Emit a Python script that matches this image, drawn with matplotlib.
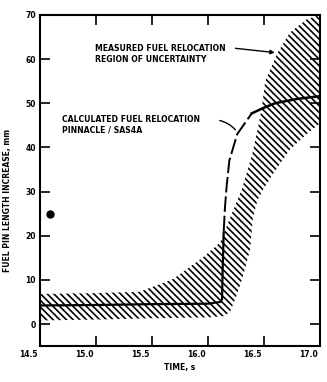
import matplotlib
matplotlib.use("Agg")
import matplotlib.pyplot as plt
import matplotlib.transforms as mtransforms

# Data
band_upper_x = [14.5, 15.0, 15.39, 15.69, 15.96, 16.11, 16.18, 16.30, 16.39, 16.45, 16.48, 16.51, 16.62, 16.73, 16.88, 17.0]
band_upper_y = [6.8, 7.0, 7.3, 10.2, 15.2, 18.5, 23.0, 30.4, 38.0, 45.0, 49.0, 55.0, 61.4, 66.0, 69.0, 70.0]
band_lower_x = [14.5, 15.0, 15.5, 16.0, 16.15, 16.20, 16.26, 16.31, 16.375, 16.40, 16.44, 16.49, 16.58, 16.73, 16.88, 17.0]
band_lower_y = [0.8, 1.0, 1.3, 1.5, 1.8, 3.0, 6.8, 10.7, 16.8, 24.0, 28.0, 30.4, 34.0, 39.5, 43.0, 45.5]

calc_solid_x = [14.5, 15.0, 15.5, 16.0, 16.11, 16.125, 16.13, 16.14]
calc_solid_y = [4.2, 4.3, 4.5, 4.6, 5.0, 5.6, 12.0, 21.0]
calc_dash_x = [16.14, 16.15, 16.165, 16.19, 16.26, 16.39]
calc_dash_y = [21.0, 26.0, 31.0, 37.0, 43.0, 47.7]
calc_tail_x = [16.39, 16.5, 16.6, 16.8, 17.0]
calc_tail_y = [47.7, 49.0, 50.0, 51.0, 51.6]

point_x = [14.59]
point_y = [25.0]

x_ticks = [14.5, 15.0, 15.5, 16.0, 16.5, 17.0]
x_ticklabels = ["14.5", "15.0", "15.5", "16.0", "16.5", "17.0"]
y_ticks = [0, 10, 20, 30, 40, 50, 60, 70]
y_ticklabels = ["0", "10", "20", "30", "40", "50", "60", "70"]

plt.rcParams['hatch.linewidth'] = 1.2
plt.rcParams['font.family'] = ['DejaVu Sans']

fig = plt.figure(figsize=(3.27, 3.82), dpi=100)
ax = fig.add_axes([0.122, 0.094, 0.857, 0.867])

# hatched band
poly_x = band_upper_x + band_lower_x[::-1]
poly_y = band_upper_y + band_lower_y[::-1]
ax.fill(poly_x, poly_y, facecolor='none', edgecolor='black', hatch='\\' * 5, linewidth=0)

ax.plot(calc_solid_x, calc_solid_y, color='black', lw=1.6, solid_capstyle='butt')
ax.plot(calc_dash_x, calc_dash_y, color='black', lw=1.4, dashes=(8, 2))
ax.plot(calc_tail_x, calc_tail_y, color='black', lw=1.8)

ax.plot(point_x, point_y, 'o', color='black', ms=5)

ax.set_xlim(14.5, 17.0)
ax.set_ylim(-5, 70)
ax.set_xticks(x_ticks)
ax.set_xticklabels(x_ticklabels)
ax.set_yticks(y_ticks)
ax.set_yticklabels(y_ticklabels)
ax.tick_params(direction='in', length=7, width=1.2, top=True, right=True,
               labelsize=5.5, pad=3)
offset = mtransforms.ScaledTranslation(-2 / 100, 0, fig.dpi_scale_trans)
for lab in ax.get_xticklabels():
    lab.set_fontweight('bold')
    lab.set_horizontalalignment('right')
    lab.set_transform(lab.get_transform() + offset)
for lab in ax.get_yticklabels():
    lab.set_fontweight('bold')
for s in ax.spines.values():
    s.set_linewidth(1.5)

ax.set_xlabel("TIME, s", fontsize=5.5, fontweight='bold', labelpad=3)
ax.set_ylabel("FUEL PIN LENGTH INCREASE, mm", fontsize=5.5, fontweight='bold')
ax.yaxis.set_label_coords(-0.10, 0.44)

fs = 5.6
ax.text(14.99, 62.3, "MEASURED FUEL RELOCATION", fontsize=fs, fontweight='bold', va='center', ha='left')
ax.text(14.99, 59.8, "REGION OF UNCERTAINTY", fontsize=fs, fontweight='bold', va='center', ha='left')
ax.annotate("", xy=(16.62, 61.4), xytext=(16.22, 62.5),
            arrowprops=dict(arrowstyle='-|>', color='black', lw=1.0, mutation_scale=6))

ax.text(14.7, 46.4, "CALCULATED FUEL RELOCATION", fontsize=fs, fontweight='bold', va='center', ha='left')
ax.text(14.7, 43.9, "PINNACLE / SAS4A", fontsize=fs, fontweight='bold', va='center', ha='left')
ax.annotate("", xy=(16.26, 43.5), xytext=(16.08, 46.2),
            arrowprops=dict(arrowstyle='-', color='black', lw=1.0,
                            connectionstyle='arc3,rad=-0.2'))

fig.savefig("out.png", dpi=100)
